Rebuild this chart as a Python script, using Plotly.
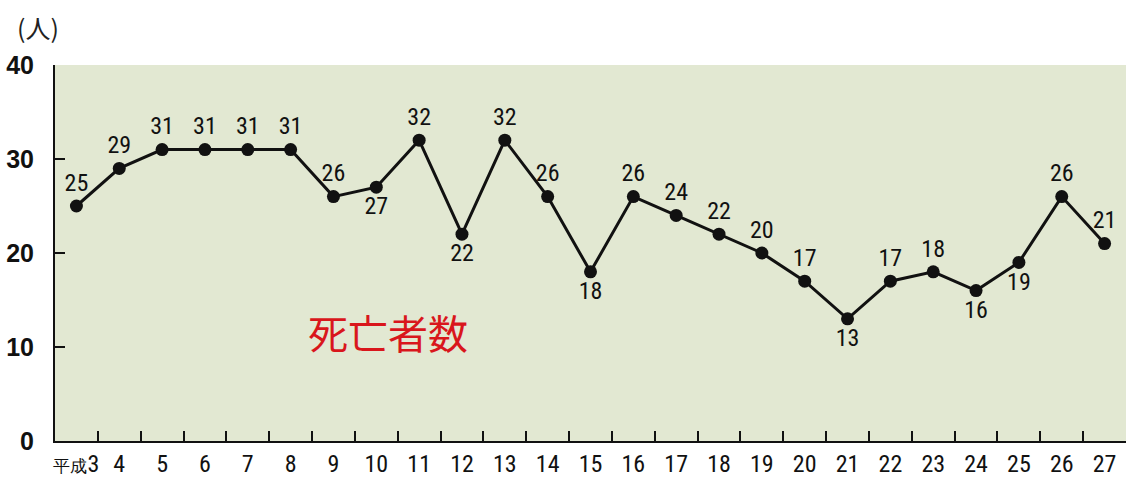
import plotly.graph_objects as go

years = ["平成3", "4", "5", "6", "7", "8", "9", "10", "11", "12", "13", "14", "15",
         "16", "17", "18", "19", "20", "21", "22", "23", "24", "25", "26", "27"]
deaths = [25, 29, 31, 31, 31, 31, 26, 27, 32, 22, 32, 26, 18, 26, 24, 22, 20, 17,
          13, 17, 18, 16, 19, 26, 21]
below_idx = [7, 9, 12, 18, 21, 22]
y_ticks = [0, 10, 20, 30, 40]

FONT = "Liberation Sans Narrow, Roboto Condensed, Liberation Sans, Arial, sans-serif"

xpos = list(range(len(years)))
positions = ["bottom center" if i in below_idx else "top center" for i in xpos]
ticktext = [("<span style='font-size:17px'>平成</span>3" if y.startswith("平成") else y)
            for y in years]

fig = go.Figure()
fig.add_trace(go.Scatter(
    x=xpos, y=deaths, mode="lines+markers+text",
    line=dict(color="#111111", width=3),
    marker=dict(color="#111111", size=13),
    text=[str(v) for v in deaths], textposition=positions,
    textfont=dict(family=FONT, size=24, color="#111111"),
    cliponaxis=False, hoverinfo="skip", showlegend=False,
))

fig.add_annotation(text="死亡者数", x=7.27, y=11.6, xref="x", yref="y",
                   showarrow=False,
                   font=dict(family="Noto Sans CJK JP", size=40, color="#d9161c"))
fig.add_annotation(text="(人)", x=-0.016, y=1.10, xref="paper", yref="paper",
                   showarrow=False, xanchor="center", yanchor="middle",
                   font=dict(family="Noto Sans CJK JP", size=25, color="#222222"))

fig.update_layout(
    width=1126, height=478,
    margin=dict(l=55, r=0, t=65, b=37),
    paper_bgcolor="white", plot_bgcolor="#e2e8d2",
    xaxis=dict(range=[-0.5, len(years) - 0.5], tickmode="array", tickvals=xpos,
               ticktext=ticktext, ticks="", showgrid=False, zeroline=False,
               showline=True, linecolor="#111111", linewidth=2,
               tickfont=dict(family=FONT, size=24, color="#111111"),
               minor=dict(tickmode="array", tickvals=[p + 0.5 for p in xpos[:-1]],
                          ticks="inside", ticklen=10, tickwidth=2,
                          tickcolor="#111111", showgrid=False)),
    yaxis=dict(range=[0, 40], tickmode="array", tickvals=y_ticks,
               ticks="inside", ticklen=10, tickwidth=2, tickcolor="#111111",
               showgrid=False, zeroline=False, showline=True,
               linecolor="#111111", linewidth=2,
               tickfont=dict(family="Liberation Sans, Arial, sans-serif", size=25,
                             color="#111111", weight="bold"),
               ticklabelstandoff=14),
)

fig.write_html("out.html", config={"displayModeBar": False},
               post_script="document.body.style.margin='0';document.body.style.overflow='hidden';")
